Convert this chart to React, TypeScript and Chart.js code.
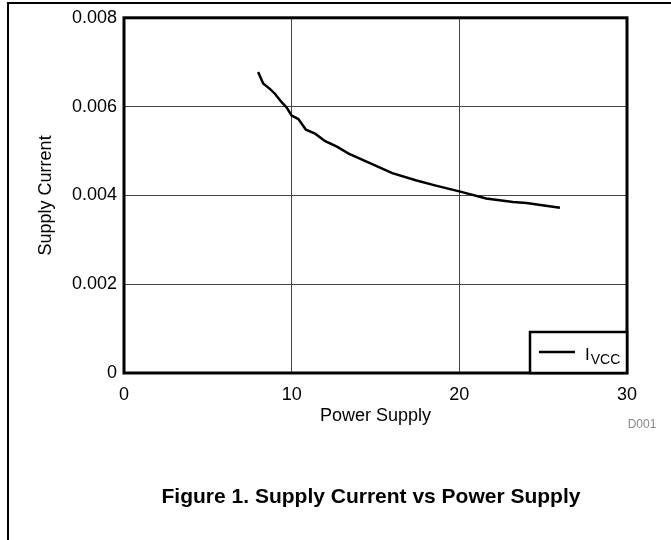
import { useEffect, useRef } from "react";
import { Chart, registerables } from "chart.js";

Chart.register(...registerables);

const powerSupply = [8.0, 8.3, 8.7, 9.0, 9.4, 9.7, 10.0, 10.4, 10.85, 11.4, 12.0, 12.7, 13.4, 14.7, 16.0, 17.4, 18.6, 20.0, 21.6, 23.2, 24.0, 26.0];
const supplyCurrent = [0.00678, 0.00652, 0.0064, 0.00629, 0.0061, 0.00598, 0.0058, 0.00572, 0.00548, 0.00539, 0.00522, 0.0051, 0.00494, 0.00472, 0.0045, 0.00434, 0.00422, 0.00409, 0.00393, 0.00385, 0.00383, 0.00372];
const yTicks = [0, 0.002, 0.004, 0.006, 0.008];
const yTickLabels = ["0", "0.002", "0.004", "0.006", "0.008"];
const xTicks = [0, 10, 20, 30];
const legendMain = "I";
const legendSub = "VCC";
const xTitle = "Power Supply";
const yTitle = "Supply Current";
const figureId = "D001";
const caption = "Figure 1. Supply Current vs Power Supply";

const FONT = "'Liberation Sans', Arial, Helvetica, sans-serif";

export default function App() {
  const ref = useRef<HTMLCanvasElement>(null);
  useEffect(() => {
    const canvas = ref.current;
    if (!canvas) return;
    const decor = {
      id: "decor",
      afterDraw(chart: any) {
        const { ctx, chartArea: a } = chart;
        ctx.save();
        // page frame
        ctx.strokeStyle = "#000";
        ctx.lineWidth = 2;
        ctx.beginPath();
        ctx.moveTo(8, 540);
        ctx.lineTo(8, 3);
        ctx.lineTo(680, 3);
        ctx.stroke();
        // plot frame
        ctx.lineWidth = 3;
        ctx.strokeRect(a.left, a.top, a.right - a.left, a.bottom - a.top);
        // legend
        const ds = chart.data.datasets[0];
        const bw = 97, bh = 41;
        const bx = a.right - bw, by = a.bottom - bh;
        ctx.fillStyle = "#fff";
        ctx.fillRect(bx, by, bw, bh);
        ctx.lineWidth = 2.5;
        ctx.strokeRect(bx, by, bw, bh);
        ctx.strokeStyle = ds.borderColor;
        ctx.lineWidth = ds.borderWidth;
        ctx.beginPath();
        ctx.moveTo(bx + 9, by + 20);
        ctx.lineTo(bx + 45, by + 20);
        ctx.stroke();
        ctx.fillStyle = "#000";
        ctx.textBaseline = "alphabetic";
        ctx.textAlign = "left";
        ctx.font = `17px ${FONT}`;
        ctx.fillText(legendMain, bx + 55, by + 28);
        const w = ctx.measureText(legendMain).width;
        ctx.font = `14px ${FONT}`;
        ctx.fillText(legendSub, bx + 55 + w + 1, by + 32);
        // figure id
        ctx.fillStyle = "#8a8a8a";
        ctx.font = `12px ${FONT}`;
        ctx.textAlign = "center";
        ctx.textBaseline = "middle";
        ctx.fillText(figureId, 642, 425);
        // caption
        ctx.fillStyle = "#000";
        ctx.font = `bold 21px ${FONT}`;
        ctx.fillText(caption, 371, 497);
        ctx.restore();
      },
    };
    const chart = new Chart(canvas, {
      type: "line",
      data: {
        datasets: [
          {
            label: legendMain + legendSub,
            data: powerSupply.map((x, i) => ({ x, y: supplyCurrent[i] })),
            borderColor: "#000",
            borderWidth: 2.5,
            pointRadius: 0,
            tension: 0,
            fill: false,
          },
        ],
      },
      options: {
        responsive: false,
        animation: false,
        layout: { padding: { left: 0, top: 17, right: 44, bottom: 107 } },
        plugins: { legend: { display: false }, tooltip: { enabled: false } },
        scales: {
          x: {
            type: "linear",
            min: 0,
            max: 30,
            afterFit: (s: any) => { s.height = 60; },
            afterBuildTicks: (s: any) => { s.ticks = xTicks.map((v) => ({ value: v })); },
            grid: { color: "#444", lineWidth: 1, drawTicks: false },
            border: { display: false },
            ticks: { color: "#000", font: { family: FONT, size: 18 }, padding: 11 },
            title: { display: true, text: xTitle, color: "#000", font: { family: FONT, size: 18 }, padding: { top: 0, bottom: 6 } },
          },
          y: {
            type: "linear",
            min: 0,
            max: 0.008,
            afterFit: (s: any) => { s.width = 124; },
            afterBuildTicks: (s: any) => { s.ticks = yTicks.map((v) => ({ value: v })); },
            grid: { color: "#444", lineWidth: 1, drawTicks: false },
            border: { display: false },
            ticks: {
              color: "#000",
              font: { family: FONT, size: 18 },
              padding: 7,
              callback: (v: any) => yTickLabels[yTicks.indexOf(Number(v))] ?? String(v),
            },
            title: { display: true, text: yTitle, color: "#000", font: { family: FONT, size: 18 }, padding: { top: 35, bottom: 0 } },
          },
        },
      },
      plugins: [decor],
    });
    return () => chart.destroy();
  }, []);
  return (
    <div style={{ position: "fixed", left: 0, top: 0, width: 671, height: 540, background: "#fff" }}>
      <canvas ref={ref} width={671} height={540} style={{ display: "block" }} />
    </div>
  );
}
